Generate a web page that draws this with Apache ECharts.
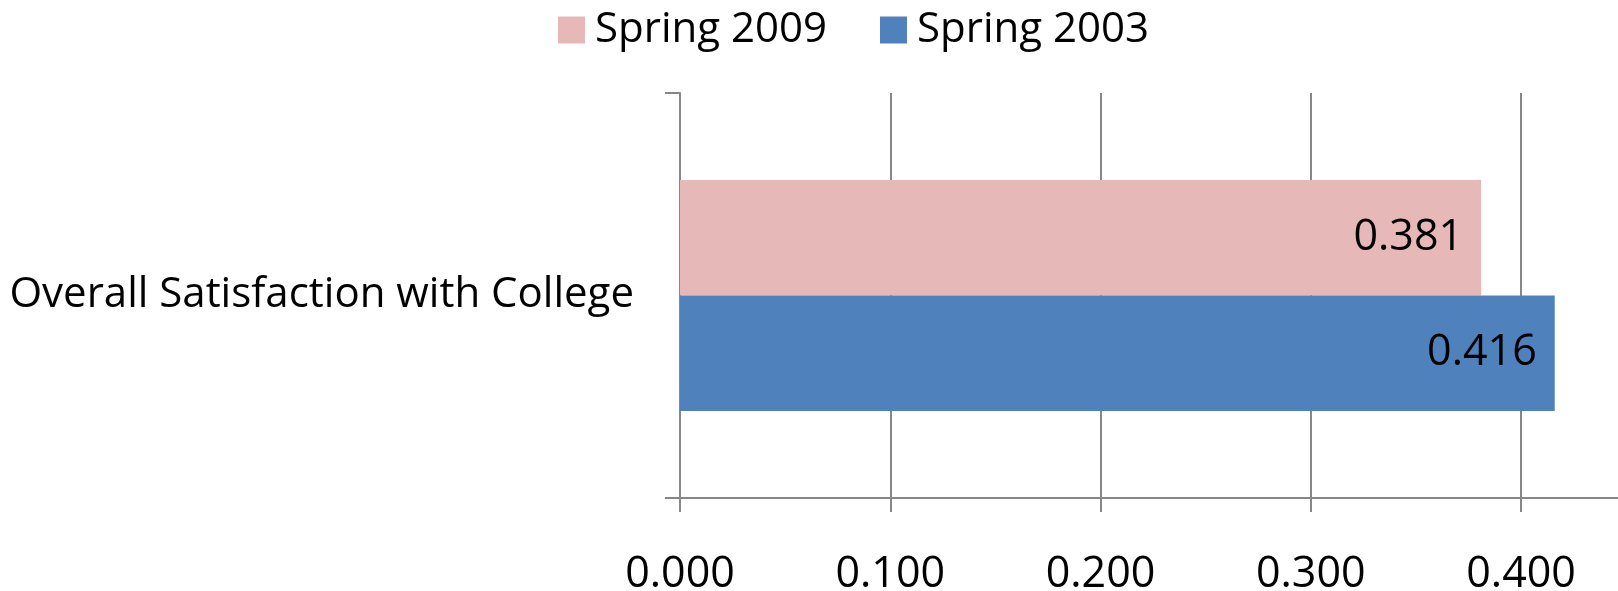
<!DOCTYPE html>
<html>
<head>
<meta charset="utf-8">
<script src="https://cdn.jsdelivr.net/npm/echarts@6/dist/echarts.min.js"></script>
<style>
  html, body { margin: 0; padding: 0; background: #fff; }
  #chart { width: 1618px; height: 591px; }
</style>
</head>
<body>
<div id="chart"></div>
<script>
// Survey item shown on the category axis
const categories = ['Overall Satisfaction with College'];

// Scores per survey wave
const seriesNames = ['Spring 2009', 'Spring 2003'];
const spring2009 = [0.381];
const spring2003 = [0.416];

const FONT = '"Open Sans", "Noto Sans", sans-serif';
const AXIS_GRAY = '#878787';

const chart = echarts.init(document.getElementById('chart'), null, { renderer: 'canvas' });

const labelStyle = {
  show: true,
  position: 'insideRight',
  distance: 18,
  color: '#000',
  fontFamily: FONT,
  fontSize: 43,
  formatter: p => p.value.toFixed(3)
};

chart.setOption({
  animation: false,
  backgroundColor: '#fff',
  textStyle: { fontFamily: FONT },
  legend: {
    data: seriesNames,
    left: 553,
    top: 4,
    icon: 'rect',
    itemWidth: 27,
    itemHeight: 27,
    itemGap: 53,
    textStyle: { fontFamily: FONT, fontSize: 42, color: '#000', padding: [0, 0, 0, 5] }
  },
  grid: {
    left: 680, right: -4, top: 93, bottom: 93,
    containLabel: false,
    outerBoundsMode: 'none'
  },
  xAxis: {
    type: 'value',
    min: 0,
    max: 0.448,
    interval: 0.1,
    axisLine: { show: true, lineStyle: { color: AXIS_GRAY, width: 2 } },
    axisTick: { show: true, length: 14, lineStyle: { color: AXIS_GRAY, width: 2 } },
    splitLine: { show: true, lineStyle: { color: AXIS_GRAY, width: 2 } },
    axisLabel: {
      margin: 55,
      color: '#000',
      fontFamily: FONT,
      fontSize: 43,
      showMaxLabel: false,
      formatter: v => v.toFixed(3)
    }
  },
  yAxis: {
    type: 'category',
    data: categories,
    axisLine: { show: true, lineStyle: { color: AXIS_GRAY, width: 2 } },
    axisTick: { show: true, length: 15, lineStyle: { color: AXIS_GRAY, width: 2 } },
    splitLine: { show: false },
    axisLabel: {
      margin: 46,
      color: '#000',
      fontFamily: FONT,
      fontSize: 42
    }
  },
  series: [
    {
      name: seriesNames[0],
      type: 'bar',
      data: spring2009,
      barCategoryGap: '43%',
      barGap: 0,
      itemStyle: { color: '#E6B9B8' },
      label: labelStyle
    },
    {
      name: seriesNames[1],
      type: 'bar',
      data: spring2003,
      barCategoryGap: '43%',
      barGap: 0,
      itemStyle: { color: '#4F81BD' },
      label: labelStyle
    }
  ]
});
</script>
</body>
</html>
